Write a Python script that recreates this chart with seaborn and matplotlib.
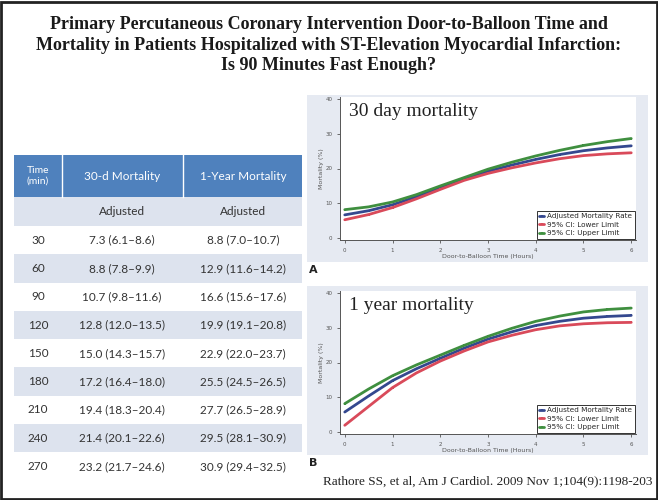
import numpy as np
import pandas as pd
import matplotlib.pyplot as plt
import seaborn as sns
from matplotlib.patches import Rectangle

# tabla: mortalidad ajustada por tiempo puerta-balón
times = [30, 60, 90, 120, 150, 180, 210, 240, 270]
m30 = [7.3, 8.8, 10.7, 12.8, 15.0, 17.2, 19.4, 21.4, 23.2]
m30_lo = [6.1, 7.8, 9.8, 12.0, 14.3, 16.4, 18.3, 20.1, 21.7]
m30_hi = [8.6, 9.9, 11.6, 13.5, 15.7, 18.0, 20.4, 22.6, 24.6]
m1y = [8.8, 12.9, 16.6, 19.9, 22.9, 25.5, 27.7, 29.5, 30.9]
m1y_lo = [7.0, 11.6, 15.6, 19.1, 22.0, 24.5, 26.5, 28.1, 29.4]
m1y_hi = [10.7, 14.2, 17.6, 20.8, 23.7, 26.5, 28.9, 30.9, 32.5]

# curvas (horas)
hours = [0, 0.5, 1, 1.5, 2, 2.5, 3, 3.5, 4, 4.5, 5, 5.5, 6]
d30_adj = [6.7, 7.9, 9.6, 11.9, 14.5, 17.0, 19.2, 21.0, 22.6, 24.0, 25.1, 25.9, 26.5]
d30_low = [5.3, 6.8, 8.8, 11.3, 14.0, 16.6, 18.6, 20.2, 21.6, 22.8, 23.7, 24.2, 24.5]
d30_up = [8.2, 9.0, 10.4, 12.5, 15.0, 17.4, 19.8, 21.8, 23.6, 25.2, 26.6, 27.7, 28.6]
y1_adj = [5.8, 10.4, 14.8, 18.2, 21.2, 24.1, 26.7, 28.8, 30.6, 31.8, 32.7, 33.2, 33.5]
y1_low = [2.0, 7.4, 12.8, 17.0, 20.4, 23.3, 25.9, 27.8, 29.4, 30.5, 31.1, 31.4, 31.5]
y1_up = [8.2, 12.4, 16.2, 19.3, 22.1, 24.9, 27.5, 29.8, 31.8, 33.3, 34.5, 35.2, 35.6]

series_names = ['Adjusted Mortality Rate', '95% CI: Lower Limit', '95% CI: Upper Limit']
series_colors = ['#34488f', '#d94a5a', '#3f8f3f']

W, H = 658, 500
fig = plt.figure(figsize=(W / 100, H / 100), dpi=100)
fig.patch.set_facecolor('white')


def fx(x):
    return x / W


def fy(y):
    return 1 - y / H


def box(x0, y0, x1, y1, color, **kw):
    fig.patches.append(Rectangle((fx(x0), fy(y1)), fx(x1 - x0), (y1 - y0) / H,
                                 transform=fig.transFigure, facecolor=color, zorder=-1, **kw))


# marco
fig.patches.append(Rectangle((0.002, 0.003), 0.996, 0.994, transform=fig.transFigure,
                             fill=False, edgecolor='#222222', linewidth=2))

title = ("Primary Percutaneous Coronary Intervention Door-to-Balloon Time and\n"
         "Mortality in Patients Hospitalized with ST-Elevation Myocardial Infarction:\n"
         "Is 90 Minutes Fast Enough?")
fig.text(0.5, fy(45), title, ha='center', va='center', fontsize=13, fontweight='bold',
         family='Liberation Serif', linespacing=1.3, color='#1a1a1a')

# ---- tabla ----
tx0, tx1 = 14, 302
cols = [14, 62, 183, 302]
box(tx0, 155, tx1, 197, '#4f81bd', edgecolor='none')
for c in cols[1:-1]:
    fig.lines.append(plt.Line2D([fx(c), fx(c)], [fy(155), fy(197)], transform=fig.transFigure,
                                color='white', lw=1))
tf = dict(family='Lato', color='#333333', fontsize=8.5, ha='center', va='center')
fig.text(fx(38), fy(176), 'Time\n(min)', **{**tf, 'color': 'white', 'fontsize': 7.5})
fig.text(fx(122), fy(176), '30-d Mortality', **{**tf, 'color': 'white'})
fig.text(fx(243), fy(176), '1-Year Mortality', **{**tf, 'color': 'white'})

row_h = 28.3
box(tx0, 197, tx1, 226, '#dde3ee', edgecolor='none')
fig.text(fx(122), fy(212), 'Adjusted', **tf)
fig.text(fx(243), fy(212), 'Adjusted', **tf)
for i, t in enumerate(times):
    y0 = 226 + i * row_h
    if i % 2 == 1:
        box(tx0, y0, tx1, y0 + row_h, '#dde3ee', edgecolor='none')
    yc = y0 + row_h / 2
    fig.text(fx(38), fy(yc), str(t), **tf)
    fig.text(fx(122), fy(yc), f'{m30[i]:.1f} ({m30_lo[i]:.1f}\u2013{m30_hi[i]:.1f})', **tf)
    fig.text(fx(243), fy(yc), f'{m1y[i]:.1f} ({m1y_lo[i]:.1f}\u2013{m1y_hi[i]:.1f})', **tf)

# ---- graficos ----
sns.set_style('ticks')


def panel(top, bottom, ax_top, ax_bottom, adj, low, up, label, letter, letter_y):
    box(307, top, 648, bottom, '#e6eaf2', edgecolor='none')
    ax = fig.add_axes([fx(340), fy(ax_bottom), fx(636 - 340), (ax_bottom - ax_top) / H])
    df = pd.DataFrame({
        'hours': hours * 3,
        'mort': adj + low + up,
        'serie': [series_names[0]] * len(hours) + [series_names[1]] * len(hours)
                 + [series_names[2]] * len(hours),
    })
    sns.lineplot(data=df, x='hours', y='mort', hue='serie', palette=series_colors,
                 hue_order=series_names, ax=ax, linewidth=2, marker='s', markersize=1.8,
                 markeredgewidth=0)
    ax.set_facecolor('white')
    ax.set_xlim(-0.1, 6.1)
    ax.set_ylim(-0.5, 40.5)
    ax.set_xticks(range(7))
    ax.set_yticks([0, 10, 20, 30, 40])
    ax.tick_params(labelsize=4, length=2, width=0.6, colors='#555555')
    ax.set_xlabel('Door-to-Balloon Time (Hours)', fontsize=4.5, color='#555555', labelpad=1)
    ax.set_ylabel('Mortality (%)', fontsize=4.5, color='#555555', labelpad=1)
    for s in ['top', 'right']:
        ax.spines[s].set_visible(False)
    for s in ['left', 'bottom']:
        ax.spines[s].set_color('#555555')
        ax.spines[s].set_linewidth(0.7)
    ax.text(0.03, 0.9, label, transform=ax.transAxes, family='Liberation Serif',
            fontsize=14, color='#222222', va='center')
    leg = ax.legend(loc='lower right', fontsize=5.2, frameon=True, fancybox=False,
                    handlelength=0.6, handletextpad=0.5, borderpad=0.35, labelspacing=0.35,
                    borderaxespad=0.15)
    leg.get_frame().set_edgecolor('black')
    leg.get_frame().set_linewidth(0.7)
    fig.text(fx(313), fy(letter_y), letter, fontsize=8, fontweight='bold', ha='center',
             va='center', color='#222222')


panel(95, 262, 97, 240, d30_adj, d30_low, d30_up, '30 day mortality', 'A', 270)
panel(286, 455, 291, 434, y1_adj, y1_low, y1_up, '1 year mortality', 'B', 463)

fig.text(fx(652), fy(481), 'Rathore SS, et al, Am J Cardiol. 2009 Nov 1;104(9):1198-203',
         ha='right', va='center', family='Liberation Serif', fontsize=9.5, color='#222222')

fig.savefig('out.png', dpi=100)
